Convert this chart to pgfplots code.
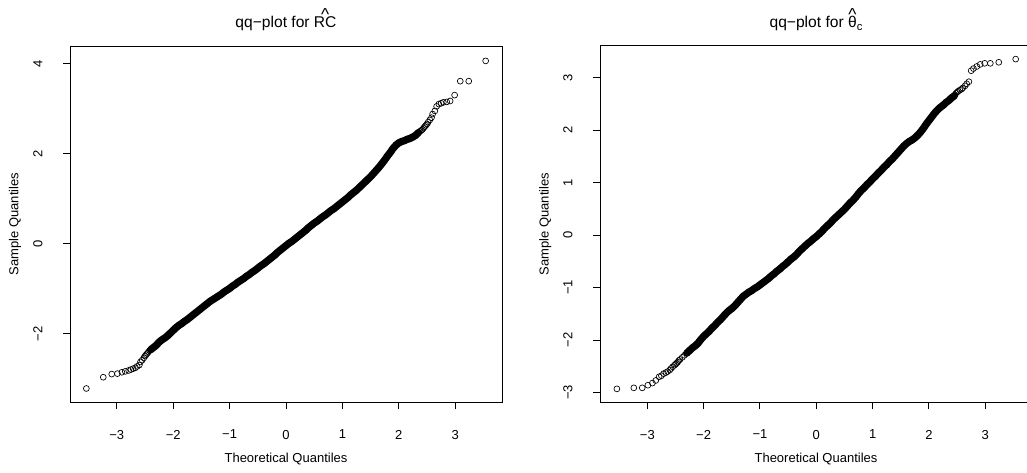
\documentclass[border=0pt]{standalone}
\usepackage{fontspec}
\setmainfont{Liberation Sans}
\usepackage{pgfplots}
\usepackage{pgfplotstable}
\pgfplotsset{compat=1.18}

% hat drawn over a word, as in R's plotmath hat()
\newcommand{\qqhat}{\raisebox{4.9pt}{\fontsize{13}{13}\selectfont\textasciicircum}}
\newcommand{\hatted}[1]{{\ooalign{#1\cr\hidewidth\qqhat\hidewidth\cr}}}

% left panel: dense middle part and the sparse tails
\pgfplotstableread{
x y
-2.40 -2.35
-2.35 -2.30
-2.30 -2.25
-2.25 -2.18
-2.20 -2.13
-2.15 -2.09
-2.10 -2.04
-2.05 -1.98
-2.00 -1.92
-1.95 -1.86
-1.90 -1.81
-1.85 -1.77
-1.80 -1.72
-1.75 -1.68
-1.70 -1.63
-1.65 -1.58
-1.60 -1.53
-1.55 -1.48
-1.50 -1.43
-1.45 -1.38
-1.40 -1.33
-1.35 -1.28
-1.30 -1.24
-1.25 -1.20
-1.20 -1.16
-1.15 -1.12
-1.10 -1.07
-1.05 -1.03
-1.00 -0.99
-0.95 -0.94
-0.90 -0.90
-0.85 -0.85
-0.80 -0.81
-0.75 -0.77
-0.70 -0.72
-0.65 -0.68
-0.60 -0.63
-0.55 -0.59
-0.50 -0.54
-0.45 -0.49
-0.40 -0.45
-0.35 -0.40
-0.30 -0.35
-0.25 -0.30
-0.20 -0.25
-0.15 -0.19
-0.10 -0.14
-0.05 -0.09
0.00 -0.04
0.05 0.01
0.10 0.05
0.15 0.10
0.20 0.15
0.25 0.20
0.30 0.25
0.35 0.30
0.40 0.36
0.45 0.41
0.50 0.46
0.55 0.50
0.60 0.55
0.65 0.60
0.70 0.64
0.75 0.69
0.80 0.74
0.85 0.78
0.90 0.83
0.95 0.88
1.00 0.93
1.05 0.98
1.10 1.03
1.15 1.09
1.20 1.14
1.25 1.19
1.30 1.25
1.35 1.31
1.40 1.37
1.45 1.43
1.50 1.49
1.55 1.56
1.60 1.63
1.65 1.70
1.70 1.78
1.75 1.86
1.80 1.95
1.85 2.03
1.90 2.12
1.95 2.19
2.00 2.24
2.05 2.27
2.10 2.29
2.15 2.32
2.20 2.34
2.25 2.37
2.30 2.41
2.35 2.47
}\leftmid

\pgfplotstableread{
x y
-3.54 -3.21
-3.24 -2.96
-3.09 -2.89
-2.99 -2.88
-2.91 -2.85
-2.85 -2.83
-2.79 -2.81
-2.75 -2.79
-2.71 -2.77
-2.67 -2.75
-2.64 -2.72
-2.60 -2.69
-2.58 -2.62
-2.55 -2.58
-2.52 -2.53
-2.50 -2.49
-2.48 -2.46
-2.46 -2.43
-2.44 -2.40
-2.42 -2.37
2.38 2.50
2.40 2.52
2.42 2.54
2.44 2.57
2.46 2.60
2.48 2.63
2.50 2.66
2.52 2.70
2.55 2.75
2.58 2.80
2.60 2.88
2.64 2.95
2.67 3.05
2.71 3.10
2.75 3.12
2.79 3.14
2.85 3.15
2.91 3.17
2.99 3.30
3.09 3.61
3.24 3.61
3.54 4.06
}\lefttail

% right panel
\pgfplotstableread{
x y
-2.30 -2.25
-2.25 -2.20
-2.20 -2.15
-2.15 -2.11
-2.10 -2.06
-2.05 -1.99
-2.00 -1.93
-1.95 -1.88
-1.90 -1.83
-1.85 -1.77
-1.80 -1.72
-1.75 -1.66
-1.70 -1.61
-1.65 -1.55
-1.60 -1.49
-1.55 -1.44
-1.50 -1.40
-1.45 -1.35
-1.40 -1.29
-1.35 -1.23
-1.30 -1.17
-1.25 -1.13
-1.20 -1.09
-1.15 -1.06
-1.10 -1.02
-1.05 -0.99
-1.00 -0.95
-0.95 -0.91
-0.90 -0.87
-0.85 -0.83
-0.80 -0.78
-0.75 -0.74
-0.70 -0.69
-0.65 -0.65
-0.60 -0.60
-0.55 -0.56
-0.50 -0.51
-0.45 -0.46
-0.40 -0.42
-0.35 -0.37
-0.30 -0.31
-0.25 -0.26
-0.20 -0.21
-0.15 -0.16
-0.10 -0.12
-0.05 -0.07
0.00 -0.03
0.05 0.02
0.10 0.07
0.15 0.13
0.20 0.18
0.25 0.23
0.30 0.29
0.35 0.34
0.40 0.39
0.45 0.44
0.50 0.49
0.55 0.55
0.60 0.61
0.65 0.66
0.70 0.72
0.75 0.79
0.80 0.85
0.85 0.90
0.90 0.96
0.95 1.01
1.00 1.07
1.05 1.12
1.10 1.18
1.15 1.23
1.20 1.29
1.25 1.34
1.30 1.40
1.35 1.45
1.40 1.51
1.45 1.57
1.50 1.63
1.55 1.69
1.60 1.74
1.65 1.78
1.70 1.81
1.75 1.85
1.80 1.90
1.85 1.96
1.90 2.03
1.95 2.11
2.00 2.18
2.05 2.25
2.10 2.32
2.15 2.38
2.20 2.43
2.25 2.47
2.30 2.52
2.35 2.56
2.40 2.61
2.45 2.65
}\rightmid

\pgfplotstableread{
x y
-3.54 -2.93
-3.24 -2.91
-3.09 -2.91
-2.99 -2.86
-2.91 -2.82
-2.85 -2.77
-2.79 -2.70
-2.75 -2.68
-2.71 -2.64
-2.67 -2.62
-2.64 -2.60
-2.60 -2.57
-2.58 -2.54
-2.55 -2.51
-2.52 -2.48
-2.50 -2.46
-2.48 -2.44
-2.46 -2.42
-2.44 -2.39
-2.42 -2.37
-2.38 -2.33
-2.34 -2.29
2.46 2.67
2.48 2.70
2.50 2.72
2.52 2.74
2.55 2.76
2.58 2.78
2.60 2.80
2.64 2.84
2.67 2.88
2.71 2.92
2.75 3.13
2.79 3.17
2.85 3.21
2.91 3.25
2.99 3.27
3.09 3.27
3.24 3.29
3.54 3.35
}\righttail

\pgfplotsset{
  rqq/.style={
    scale only axis, width=324pt, height=267pt, anchor=south west,
    axis line style={line width=0.75pt},
    tick pos=left, tick align=outside, major tick length=5.25pt,
    every tick/.style={black, line width=0.75pt},
    tick label style={font=\fontsize{9.75}{11}\selectfont, inner sep=0pt},
    xticklabel style={anchor=north}, xticklabel shift=15.5pt,
    yticklabel style={rotate=90, anchor=south}, yticklabel shift=15.2pt,
    xtick={-3,...,3}, xticklabels={−3,−2,−1,0,1,2,3},
    xlabel={Theoretical Quantiles}, ylabel={Sample Quantiles},
    every axis x label/.style={at={(axis description cs:0.5,-0.1424)},
      anchor=north, inner sep=0pt, font=\fontsize{9.75}{11}\selectfont},
    every axis y label/.style={at={(axis description cs:-0.127,0.5)},
      rotate=90, anchor=center, inner sep=0pt, font=\fontsize{9.75}{11}\selectfont},
    every axis title/.style={at={(axis description cs:0.5,1)}, anchor=base,
      yshift=14pt, font=\fontsize{11.7}{13}\selectfont},
  },
  band/.style={black, line width=5.5pt, line cap=round, line join=round, no marks},
  pts/.style={only marks, mark=o, mark size=2.2pt, mark options={line width=0.5pt, black}},
}

\begin{document}
\begin{tikzpicture}[x=1pt,y=1pt]
\useasboundingbox (0,0) rectangle (770.25,354);

\begin{axis}[rqq, at={(52.5pt,52.5pt)},
  xmin=-3.83, xmax=3.83, ymin=-3.51, ymax=4.39,
  ytick={-2,0,2,4}, yticklabels={−2,0,2,4},
  title={qq−plot for \hatted{RC}}]
\addplot[band] table {\leftmid};
\addplot[pts] table {\leftmid};
\addplot[pts] table {\lefttail};
\end{axis}

\begin{axis}[rqq, at={(450pt,52.5pt)},
  xmin=-3.84, xmax=3.83, ymin=-3.18, ymax=3.60,
  ytick={-3,...,3}, yticklabels={−3,−2,−1,0,1,2,3},
  title={qq−plot for \hatted{θ}\raisebox{-0.2em}{\fontsize{8.5}{9}\selectfont c}}]
\addplot[band] table {\rightmid};
\addplot[pts] table {\rightmid};
\addplot[pts] table {\righttail};
\end{axis}
\end{tikzpicture}
\end{document}
